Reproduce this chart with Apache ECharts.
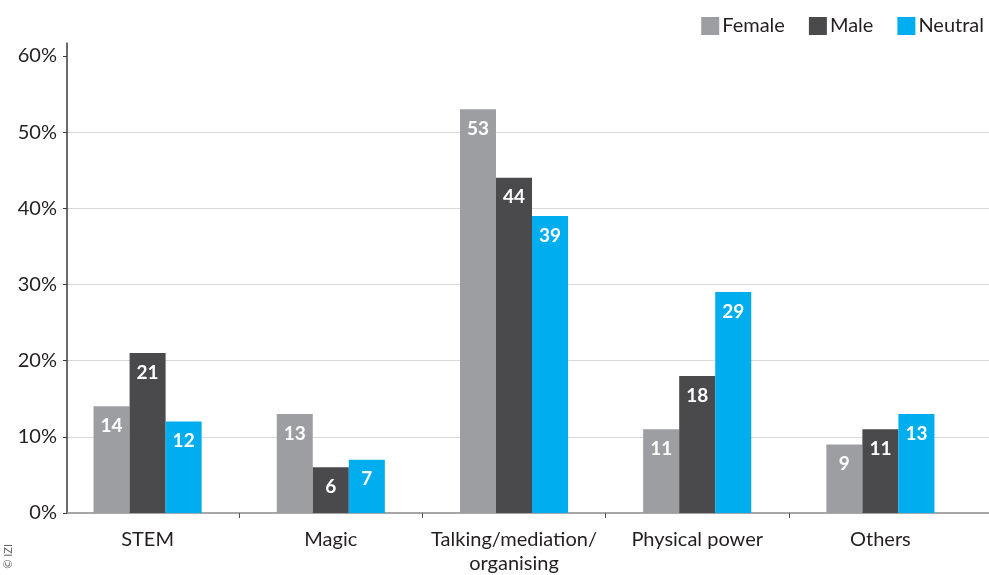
<!DOCTYPE html>
<html>
<head>
<meta charset="utf-8">
<script src="https://cdn.jsdelivr.net/npm/echarts@6/dist/echarts.min.js"></script>
<style>
html,body{margin:0;padding:0;background:#fff;}
#chart{width:989px;height:575px;}
</style>
</head>
<body>
<div id="chart"></div>
<script>
const categories = ['STEM', 'Magic', 'Talking/mediation/\norganising', 'Physical power', 'Others'];
const seriesNames = ['Female', 'Male', 'Neutral'];
const female = [14, 13, 53, 11, 9];
const male = [21, 6, 44, 18, 11];
const neutral = [12, 7, 39, 29, 13];
const yTicks = [0, 10, 20, 30, 40, 50, 60];
const bandBoundaries = [1, 2, 3, 4];
const colors = ['#9d9ea2', '#4a4a4d', '#00adef'];

const FONT = 'Lato';
const chart = echarts.init(document.getElementById('chart'));

function barSeries(name, data, color) {
  return {
    name: name,
    type: 'bar',
    xAxisIndex: 1,
    yAxisIndex: 1,
    data: data,
    barGap: '0%',
    barCategoryGap: '41%',
    itemStyle: { color: color },
    label: {
      show: true,
      position: 'insideTop',
      distance: 10,
      color: '#fff',
      fontFamily: FONT,
      fontWeight: 'bold',
      fontSize: 19
    },
    emphasis: { disabled: true }
  };
}

chart.setOption({
  animation: false,
  backgroundColor: '#fff',
  textStyle: { fontFamily: FONT },
  legend: {
    data: seriesNames,
    right: 0,
    top: 11,
    icon: 'rect',
    itemWidth: 18,
    itemHeight: 18,
    itemGap: 24,
    textStyle: { fontFamily: FONT, fontSize: 20, color: '#231f20', padding: [0, 0, 0, -2] }
  },
  grid: [
    { left: 67, right: 0, top: 43, bottom: 62, outerBoundsMode: 'none', containLabel: false },
    { left: 56, right: 17, top: 43, bottom: 62, outerBoundsMode: 'none', containLabel: false }
  ],
  xAxis: [
    {
      gridIndex: 0, type: 'value', min: 0.06, max: 5.093,
      axisLine: { show: true, onZero: false, lineStyle: { color: '#8a8a8a', width: 1.5 } },
      axisTick: { show: true, length: 5, customValues: bandBoundaries, lineStyle: { color: '#555' } },
      axisLabel: { show: false }, splitLine: { show: false }
    },
    {
      gridIndex: 1, type: 'category', data: categories,
      axisLine: { show: false },
      axisTick: { show: false },
      axisLabel: {
        interval: 0, margin: 15, fontFamily: FONT, fontSize: 20, color: '#231f20', lineHeight: 24
      }
    }
  ],
  yAxis: [
    {
      gridIndex: 0, type: 'value', min: 0, max: 61.7, interval: 10,
      axisLine: { show: true, lineStyle: { color: '#3a3a3a', width: 1.5 } },
      axisTick: { show: true, length: 4, customValues: yTicks, lineStyle: { color: '#3a3a3a' } },
      axisLabel: {
        customValues: yTicks,
        margin: 10, fontFamily: FONT, fontSize: 20, color: '#231f20',
        formatter: function (v) { return (v % 10 === 0) ? v + '%' : ''; }
      },
      splitLine: { show: true, showMaxLine: false, showMinLine: false, lineStyle: { color: '#d9d9d9', width: 1 } }
    },
    {
      gridIndex: 1, type: 'value', min: 0, max: 61.7,
      show: false, splitLine: { show: false }
    }
  ],
  series: [
    barSeries(seriesNames[0], female, colors[0]),
    barSeries(seriesNames[1], male, colors[1]),
    barSeries(seriesNames[2], neutral, colors[2])
  ],
  graphic: [
    {
      type: 'text',
      left: 3,
      top: 544,
      rotation: Math.PI / 2,
      style: { text: '© IZI', fontFamily: FONT, fontSize: 11, fill: '#666' }
    }
  ]
});
</script>
</body>
</html>
